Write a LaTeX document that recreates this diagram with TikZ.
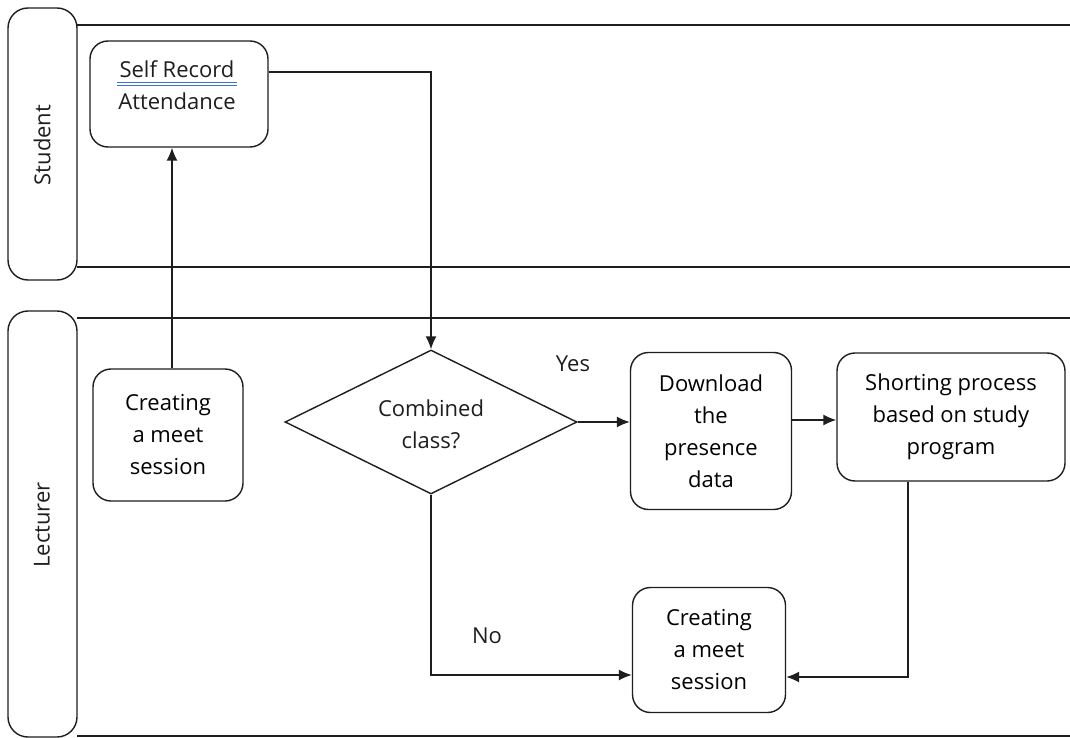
\documentclass[tikz,border=0pt]{standalone}
\usepackage{fontspec}
\setmainfont{Open Sans}
\usetikzlibrary{arrows.meta,shapes.geometric}
\definecolor{ink}{RGB}{30,30,30}
\definecolor{spell}{RGB}{60,110,220}
\tikzset{
  line/.style={draw=ink,line width=1.4pt},
  flow/.style={line,-{Latex[length=13pt,width=11pt]}},
  lanehead/.style={line,rounded corners=20pt},
  stepbox/.style={line,rounded corners=18pt,align=center,inner sep=0pt},
  txt/.style={align=center,inner sep=0pt,text=ink},
  every node/.style={font=\fontsize{22}{32}\selectfont}
}
\begin{document}
\begin{tikzpicture}[x=1pt,y=-1pt]
\useasboundingbox (0,0) rectangle (1070,738);
\fill[white] (0,0) rectangle (1070,738);

% swimlanes
\draw[line] (77,25) -- (1072,25);
\draw[line] (77,267) -- (1072,267);
\draw[line] (77,318) -- (1072,318);
\draw[line] (77,736) -- (1072,736);
\draw[lanehead] (8,8) rectangle (77,280);
\draw[lanehead] (8,311) rectangle (77,737);
\node[txt,rotate=90] (student) at (42,145) {Student};
\node[txt,rotate=90] (lecturer) at (42,525) {Lecturer};

% steps
\node[stepbox,minimum width=178pt,minimum height=106pt] (self) at (179,94) {};
\node[txt] (selft) at (177,85) {Self Record\\Attendance};
\draw[spell,line width=0.7pt] (117,82.5) -- (237,82.5);
\draw[spell,line width=0.7pt] (117,85.5) -- (237,85.5);

\node[stepbox,minimum width=150pt,minimum height=132pt] (meet) at (168,435)
  {Creating\\a meet\\session};

\node[diamond,line,minimum width=292pt,minimum height=144pt,inner sep=0pt,
      aspect=2.03,txt] (comb) at (431,422) {};
\node[txt] (combt) at (431,424) {Combined\\class?};

\node[stepbox,minimum width=161pt,minimum height=157pt] (down) at (711,431)
  {Download\\the\\presence\\data};

\node[stepbox,minimum width=228pt,minimum height=128pt] (sort) at (951,417)
  {Shorting process\\based on study\\program};

\node[stepbox,minimum width=153pt,minimum height=125pt] (meet2) at (709,650)
  {Creating\\a meet\\session};

% connectors
\draw[flow] (meet.north -| 172,0) -- (self.south -| 172,0);
\coordinate (c1) at (431,72);
\draw[flow] (self.east |- c1) -- (c1) -- (comb.north);
\draw[flow] (comb.east) -- (down.west |- comb.east);
\draw[flow] (down.east |- 0,420) -- (sort.west |- 0,420);
\coordinate (c2) at (908,677);
\draw[flow] (sort.south -| c2) -- (c2) -- (meet2.east |- c2);
\coordinate (c3) at (431,675);
\draw[flow] (comb.south) -- (c3) -- (meet2.west |- c3);

% branch labels
\node[txt] (yes) at (573,364) {Yes};
\node[txt] (no) at (487,636) {No};
\end{tikzpicture}
\end{document}
